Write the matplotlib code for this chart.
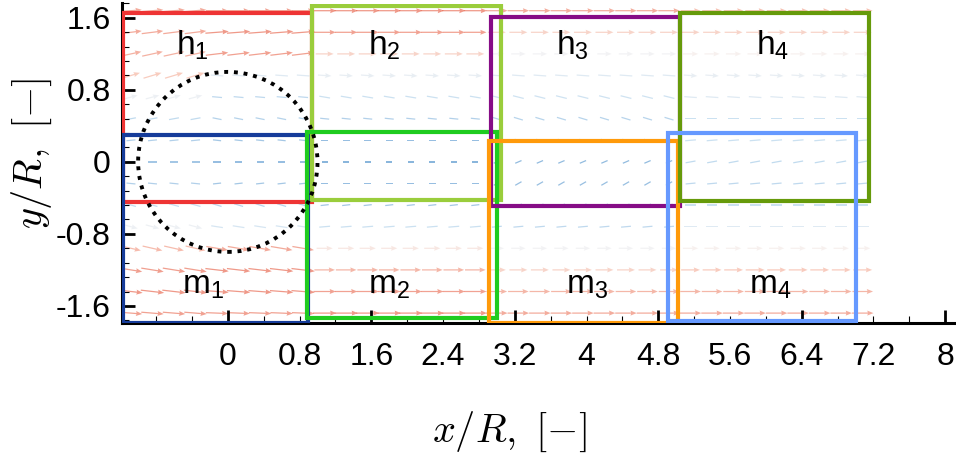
import numpy as np
import matplotlib
matplotlib.use("Agg")
import matplotlib.pyplot as plt
from matplotlib.patches import Rectangle, Circle
from matplotlib.colors import LinearSegmentedColormap, Normalize
from matplotlib.ticker import FixedLocator, MultipleLocator

plt.rcParams["font.family"] = ["Liberation Sans", "DejaVu Sans"]
plt.rcParams["mathtext.fontset"] = "cm"

# PIV grid (x/R, y/R)
x_cols = np.round(np.arange(-1.08, 7.21, 0.24), 2)
y_rows = np.array([1.68, 1.44, 1.20, 0.96, 0.72, 0.48, 0.24, 0.00,
                   -0.24, -0.48, -0.72, -0.96, -1.20, -1.44, -1.68])

# velocity read at five streamwise stations (upstream half, over cylinder,
# near wake, mid wake, far wake); columns use the station they fall in
station_edges = [-0.2, 0.9, 2.95, 5.0]
u_table = np.array([
    [0.24, 0.25, 0.26, 0.24, 0.22],
    [0.24, 0.26, 0.25, 0.20, 0.20],
    [0.23, 0.25, 0.20, 0.16, 0.17],
    [0.20, 0.14, 0.15, 0.14, 0.15],
    [0.15, 0.11, 0.12, 0.12, 0.14],
    [0.11, 0.10, 0.10, 0.10, 0.12],
    [0.10, 0.09, 0.08, 0.08, 0.12],
    [0.09, 0.08, 0.07, 0.07, 0.11],
    [0.10, 0.09, 0.08, 0.07, 0.11],
    [0.11, 0.10, 0.09, 0.08, 0.12],
    [0.15, 0.13, 0.12, 0.11, 0.14],
    [0.22, 0.24, 0.18, 0.16, 0.17],
    [0.25, 0.26, 0.23, 0.20, 0.21],
    [0.26, 0.26, 0.25, 0.23, 0.23],
    [0.25, 0.25, 0.26, 0.24, 0.24],
])
v_table = np.array([
    [0.02, 0.00, 0.00, 0.00, 0.00],
    [0.03, 0.02, 0.00, 0.00, 0.00],
    [0.05, 0.03, 0.00, 0.00, 0.00],
    [0.06, -0.01, -0.01, -0.01, -0.01],
    [0.04, -0.01, -0.02, -0.03, -0.01],
    [0.02, -0.02, -0.01, -0.03, 0.00],
    [0.01, -0.01, 0.00, -0.02, 0.01],
    [0.00, 0.00, 0.00, 0.03, 0.02],
    [-0.01, 0.01, 0.00, 0.04, 0.01],
    [-0.03, -0.03, 0.01, 0.02, 0.00],
    [-0.04, -0.02, 0.01, 0.01, 0.00],
    [-0.05, -0.04, 0.00, 0.00, 0.00],
    [-0.04, -0.03, 0.00, 0.00, 0.00],
    [-0.03, -0.02, 0.00, 0.00, 0.00],
    [-0.02, -0.01, 0.00, 0.00, 0.00],
])

# interrogation windows: label, left, bottom, right, top, colour
box_names = ["h_1", "m_1", "h_2", "m_2", "h_3", "m_3", "h_4", "m_4"]
box_x0 = [-1.17, -1.17, 0.94, 0.88, 2.94, 2.91, 5.04, 4.905]
box_y0 = [-0.444, -1.79, -0.42, -1.733, -0.49, -1.79, -0.433, -1.767]
box_x1 = [0.94, 0.89, 3.05, 3.00, 5.04, 5.02, 7.15, 7.00]
box_y1 = [1.656, 0.30, 1.733, 0.333, 1.61, 0.233, 1.656, 0.322]
box_colors = ["#ee3434", "#163c9a", "#9acd3c", "#1fcc1f",
              "#860c86", "#ff9a0a", "#669a0a", "#6699ff"]
label_x = [-0.40, -0.28, 1.75, 1.80, 3.84, 4.00, 6.08, 6.05]
label_y = [1.29, -1.37, 1.29, -1.37, 1.29, -1.37, 1.29, -1.37]

xtick_vals = [0, 0.8, 1.6, 2.4, 3.2, 4, 4.8, 5.6, 6.4, 7.2, 8]
xtick_text = ["0", "0.8", "1.6", "2.4", "3.2", "4", "4.8", "5.6", "6.4", "7.2", "8"]
ytick_vals = [-1.6, -0.8, 0, 0.8, 1.6]
ytick_text = ["-1.6", "-0.8", "0", "0.8", "1.6"]

fig = plt.figure(figsize=(9.56, 4.57), dpi=100)
ax = fig.add_axes([122 / 956, 134 / 457, 834 / 956, 319.5 / 457])
ax.set_xlim(-1.18, 8.12)
ax.set_ylim(-1.79, 1.76)

# vector field, coloured by speed; slow vectors drawn as plain dashes
idx = np.searchsorted(station_edges, x_cols)
U = u_table[:, idx]
V = v_table[:, idx]
X, Y = np.meshgrid(x_cols, y_rows)
speed = np.hypot(U, V)
cmap = LinearSegmentedColormap.from_list(
    "vel", ["#3d86c6", "#a5cbe8", "#f2eeee", "#f4a58e", "#e5553a"])
norm = Normalize(0.07, 0.26)
fast = speed >= 0.15
slow = ~fast
qkw = dict(cmap=cmap, norm=norm, angles="xy", scale_units="xy", scale=1,
           pivot="mid", width=0.0015, alpha=0.6, zorder=1)
ax.quiver(X[fast], Y[fast], U[fast], V[fast], speed[fast],
          headwidth=4, headlength=5, headaxislength=4.5, **qkw)
ax.quiver(X[slow], Y[slow], U[slow], V[slow], speed[slow],
          headwidth=1, headlength=0, headaxislength=0, **qkw)

for name, x0, y0, x1, y1, c in zip(box_names, box_x0, box_y0, box_x1, box_y1, box_colors):
    ax.add_patch(Rectangle((x0, y0), x1 - x0, y1 - y0, fill=False,
                           edgecolor=c, lw=3, zorder=3))

for name, lx, ly in zip(box_names, label_x, label_y):
    ax.text(lx, ly, r"$\mathregular{%s}$" % name, fontsize=24,
            ha="center", va="center", zorder=5)

# cylinder outline
ax.add_patch(Circle((0, 0), 1.0, fill=False, edgecolor="black", lw=2.8,
                    linestyle=(0, (1, 1.5)), zorder=4))

for s in ["top", "right"]:
    ax.spines[s].set_visible(False)
ax.spines["bottom"].set_linewidth(2.2)
ax.spines["left"].set_linewidth(2.2)

ax.xaxis.set_major_locator(FixedLocator(xtick_vals))
ax.xaxis.set_minor_locator(FixedLocator(np.round(np.arange(-1.2, 8.1, 0.4), 2)))
ax.set_xticklabels(xtick_text)
ax.yaxis.set_major_locator(FixedLocator(ytick_vals))
ax.yaxis.set_minor_locator(MultipleLocator(0.16))
ax.set_yticklabels(ytick_text)

ax.tick_params(axis="x", which="major", direction="in", length=9.5, width=2,
               pad=14, labelsize=23)
ax.tick_params(axis="y", which="major", direction="in", length=9.5, width=2,
               pad=8, labelsize=23)
ax.tick_params(which="minor", direction="in", length=5, width=0.8)

# only every other labelled x tick gets a long mark
for loc, t in zip(xtick_vals, ax.xaxis.get_major_ticks()):
    if round(loc / 0.8) % 2 == 1:
        t.tick1line.set_markersize(5)
        t.tick1line.set_markeredgewidth(0.8)

ax.set_xlabel(r"$x/R,\ [-]$", fontsize=29)
ax.xaxis.set_label_coords(0.464, -0.27)
ax.set_ylabel(r"$y/R,\ [-]$", fontsize=29)
ax.yaxis.set_label_coords(-0.082, 0.53)

fig.savefig("out.png", dpi=100)
